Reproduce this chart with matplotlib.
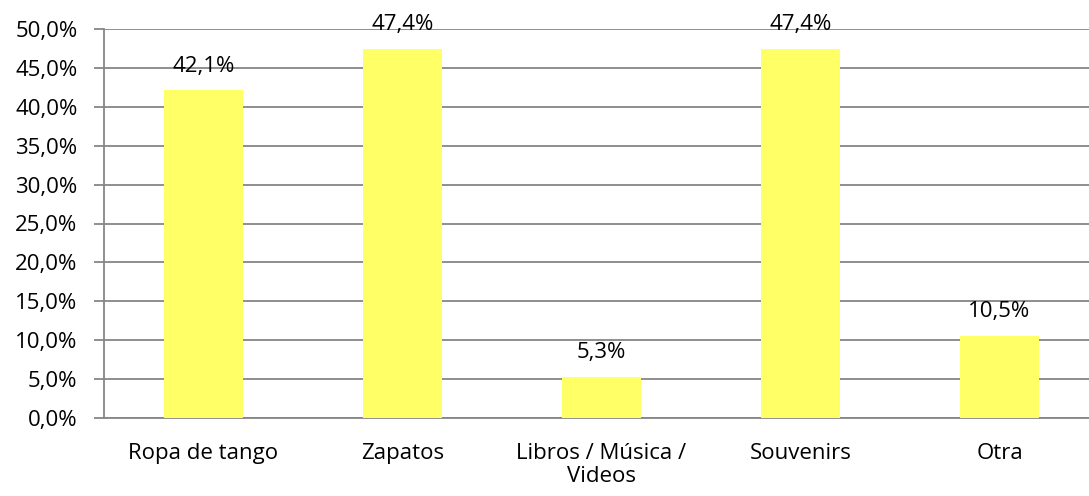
import matplotlib.pyplot as plt
from matplotlib.ticker import FuncFormatter, MultipleLocator

categories = ["Ropa de tango", "Zapatos", "Libros / Música /\nVideos", "Souvenirs", "Otra"]
values = [42.1, 47.4, 5.3, 47.4, 10.5]

plt.rcParams['font.family'] = ['Open Sans', 'DejaVu Sans']

fig = plt.figure(figsize=(10.89, 4.96), dpi=100)
ax = fig.add_axes([104 / 1089, 1 - 418 / 496, 995 / 1089, 389 / 496])

x = range(len(categories))
bars = ax.bar(x, values, width=0.4, color="#FFFF66", zorder=3)

for xi, v in zip(x, values):
    ax.annotate(f"{v:.1f}%".replace(".", ","), (xi, v), xytext=(0, 10),
                textcoords="offset points", ha="center", va="bottom", fontsize=16)

ax.set_xlim(-0.5, len(categories) - 0.5)
ax.set_ylim(0, 50)
ax.yaxis.set_major_locator(MultipleLocator(5))
ax.yaxis.set_major_formatter(FuncFormatter(lambda v, p: f"{v:.1f}%".replace(".", ",")))
ax.grid(axis="y", color="#868686", linewidth=1.3, zorder=0)

ax.set_xticks(list(x))
ax.set_xticklabels(categories, fontsize=16, linespacing=1.1)
ax.tick_params(axis="x", length=0, pad=18)
ax.tick_params(axis="y", length=7, color="#868686", width=1.3, labelsize=16, pad=12)

for s in ["top", "right"]:
    ax.spines[s].set_visible(False)
for s in ["left", "bottom"]:
    ax.spines[s].set_color("#868686")
    ax.spines[s].set_linewidth(1.3)

fig.savefig("out.png", dpi=100)
